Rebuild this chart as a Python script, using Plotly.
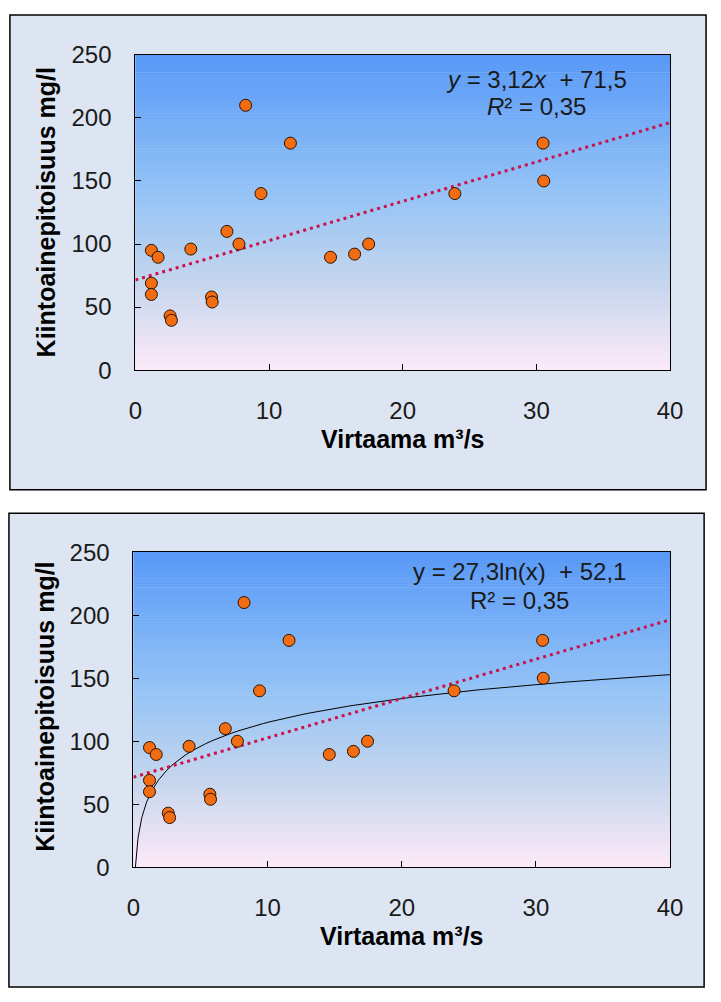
import numpy as np
import plotly.graph_objects as go

# ---- data ----
virtaama = [1.2, 1.7, 1.2, 1.2, 2.6, 2.7, 4.15, 5.7, 5.75, 6.85, 7.75, 8.25,
            9.4, 11.6, 14.6, 16.4, 17.45, 23.9, 30.5, 30.55]
kiintoaine = [95, 89.5, 69, 60, 43, 39.5, 96, 58, 54, 110, 100, 210,
              140, 180, 89.5, 92, 100, 140, 180, 150]

lin_slope, lin_intercept = 3.12, 71.5
log_coef, log_intercept = 27.3, 52.1

x_ticks = [0, 10, 20, 30, 40]
y_ticks = [0, 50, 100, 150, 200, 250]

eq_top = ["<i>y</i> = 3,12<i>x</i>\u00a0 + 71,5", "<i>R</i>² = 0,35"]
eq_bot = ["y = 27,3ln(x)\u00a0 + 52,1", "R² = 0,35"]
x_title = "Virtaama m³/s"
y_title = "Kiintoainepitoisuus mg/l"

# ---- layout geometry (pixels) ----
W, H = 721, 1002
def px(x): return x / W
def py(y): return 1 - y / H

top_plot = dict(x0=132, x1=682, y0=42, y1=366)
bot_plot = dict(x0=130, x1=682, y0=553, y1=877)
top_box = dict(x0=3, x1=719, y0=1, y1=489)
bot_box = dict(x0=2, x1=717, y0=513, y1=1000)

fig = go.Figure()

marker = dict(size=12, color="#F26C12", line=dict(color="#2a1200", width=1))
dot_line = dict(color="#CC1148", width=3, dash="3px,4px")

x_lin = np.array([0, 40])
x_log = np.concatenate([np.linspace(np.exp(-log_intercept / log_coef), 2, 60), np.linspace(2, 40, 80)])

for ax in ["", "2"]:
    xa, ya = "x" + ax, "y" + ax
    if ax == "2":
        fig.add_trace(go.Scatter(x=x_log, y=log_coef * np.log(x_log) + log_intercept, mode="lines",
                                 line=dict(color="black", width=1), xaxis=xa, yaxis=ya,
                                 hoverinfo="skip", showlegend=False))
    fig.add_trace(go.Scatter(x=x_lin, y=lin_slope * x_lin + lin_intercept, mode="lines",
                             line=dot_line, xaxis=xa, yaxis=ya, hoverinfo="skip", showlegend=False))
    fig.add_trace(go.Scatter(x=virtaama, y=kiintoaine, mode="markers", marker=marker,
                             xaxis=xa, yaxis=ya, showlegend=False, cliponaxis=False))

# ---- background shapes ----
shapes = []
for b in (top_box, bot_box):
    shapes.append(dict(type="rect", xref="paper", yref="paper", layer="below",
                       x0=px(b["x0"]), x1=px(b["x1"]), y0=py(b["y1"]), y1=py(b["y0"]),
                       fillcolor="#DCE5F1", line=dict(color="black", width=1.5)))

stops = [(0.0, (88, 153, 247)), (0.45, (150, 196, 246)), (0.72, (196, 213, 237)), (1.0, (253, 234, 248))]
def grad(t):
    for (t0, c0), (t1, c1) in zip(stops[:-1], stops[1:]):
        if t0 <= t <= t1:
            f = (t - t0) / (t1 - t0)
            return "rgb(%d,%d,%d)" % tuple(round(a + (b - a) * f) for a, b in zip(c0, c1))
    return "rgb(%d,%d,%d)" % stops[-1][1]

n = 108
for p in (top_plot, bot_plot):
    h = (p["y1"] - p["y0"]) / n
    for i in range(n):
        t = (i + 0.5) / n
        shapes.append(dict(type="rect", xref="paper", yref="paper", layer="below",
                           x0=px(p["x0"]), x1=px(p["x1"]),
                           y0=py(p["y0"] + (i + 1) * h + 0.5), y1=py(p["y0"] + i * h),
                           fillcolor=grad(t), line=dict(width=0)))

tickfont = dict(family="Liberation Sans, Arial, sans-serif", size=24, color="#1a1a1a")
common_x = dict(range=[0, 40], tickvals=x_ticks, ticks="inside", ticklen=6, tickcolor="black",
                showline=True, linecolor="black", linewidth=1, mirror=True, showgrid=False,
                zeroline=False, tickfont=tickfont, ticklabelstandoff=19, fixedrange=True)
common_y = dict(range=[0, 250], tickvals=y_ticks, ticks="inside", ticklen=6, tickcolor="black",
                showline=True, linecolor="black", linewidth=1, mirror=True, showgrid=False,
                zeroline=False, tickfont=tickfont, ticklabelstandoff=18, fixedrange=True)

fig.update_layout(
    width=W, height=H, margin=dict(l=0, r=0, t=0, b=0),
    paper_bgcolor="white", plot_bgcolor="rgba(0,0,0,0)",
    xaxis=dict(common_x, domain=[px(top_plot["x0"]), px(top_plot["x1"])], anchor="y"),
    yaxis=dict(common_y, domain=[py(top_plot["y1"]), py(top_plot["y0"])], anchor="x"),
    xaxis2=dict(common_x, domain=[px(bot_plot["x0"]), px(bot_plot["x1"])], anchor="y2"),
    yaxis2=dict(common_y, domain=[py(bot_plot["y1"]), py(bot_plot["y0"])], anchor="x2"),
    shapes=shapes, showlegend=False,
)

titlefont = dict(family="Liberation Sans, Arial, sans-serif", size=25, color="black")
annos = []
for p, ty in ((top_plot, 437), (bot_plot, 948)):
    annos.append(dict(text="<b>" + x_title + "</b>", xref="paper", yref="paper",
                      x=px((p["x0"] + p["x1"]) / 2), y=py(ty), showarrow=False,
                      xanchor="center", yanchor="middle", font=titlefont))
for cx, cy in ((40, 204), (39, 712)):
    annos.append(dict(text="<b>" + y_title + "</b>", xref="paper", yref="paper",
                      x=px(cx), y=py(cy), showarrow=False, textangle=-90,
                      xanchor="center", yanchor="middle", font=titlefont))
eqfont = dict(family="Liberation Sans, Arial, sans-serif", size=24, color="#1a1a1a")
for lines, cx, ys in ((eq_top, 545, (67, 95)), (eq_bot, 527, (573, 603))):
    for txt, yy in zip(lines, ys):
        annos.append(dict(text=txt, xref="paper", yref="paper", x=px(cx), y=py(yy),
                          showarrow=False, xanchor="center", yanchor="middle", font=eqfont))
fig.update_layout(annotations=annos)

fig.write_html("out.html", config={"displayModeBar": False},
               post_script="document.body.style.margin='0';document.body.style.overflow='hidden';")
